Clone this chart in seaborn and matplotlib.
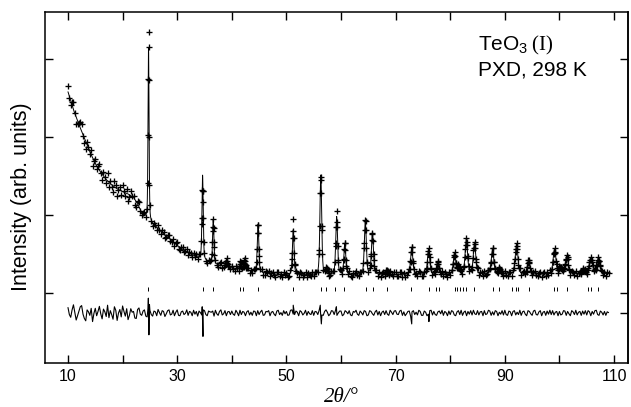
import numpy as np
import pandas as pd
import matplotlib
matplotlib.use("Agg")
import matplotlib.pyplot as plt
import seaborn as sns

# ---------------- data ----------------
# background anchor points (2theta in degrees, intensity in arb. units)
bg_2theta = [10, 11, 12, 13, 14, 15, 16, 17, 18, 19, 20, 21, 22, 22.6, 23.2, 23.8,
             24.4, 25.3, 26, 27, 28, 29, 30, 31, 32, 33, 34, 35, 36, 37, 38, 40,
             42, 44, 46, 48, 50, 55, 60, 70, 80, 90, 100, 109]
bg_level = [2580, 2350, 2160, 1990, 1810, 1660, 1545, 1455, 1385, 1335, 1300, 1270,
            1225, 1160, 1070, 985, 965, 895, 850, 790, 730, 670, 610, 560, 515, 480,
            455, 420, 380, 365, 350, 320, 295, 275, 255, 240, 232, 230, 232, 235,
            238, 238, 240, 245]

# Bragg peaks: position, calculated apex, observed apex
peak_2theta = [24.75, 34.65, 36.6, 39.05, 41.6, 42.4, 44.8, 51.25, 56.3, 57.4,
               59.2, 60.7, 64.45, 65.75, 68.5, 72.95, 76.05, 77.7, 80.8, 81.6,
               82.95, 84.45, 87.75, 89.0, 92.15, 94.35, 99.1, 100.2, 101.35,
               104.4, 105.75, 107.15]
peak_calc = [3140, 1510, 940, 430, 390, 440, 880, 810, 1510, 300,
             975, 620, 920, 760, 290, 580, 560, 390, 510, 330,
             690, 640, 560, 310, 630, 410, 560, 330, 470,
             300, 450, 450]
peak_obs = [3350, 1310, 950, 450, 400, 450, 870, 955, 1485, 310,
            1055, 640, 935, 770, 300, 590, 577, 400, 525, 340,
            705, 655, 577, 320, 641, 423, 577, 340, 487,
            310, 462, 462]

# reflection marker positions
refl_2theta = [24.7, 34.65, 36.55, 41.5, 42.1, 44.75, 51.2, 56.25, 57.3, 58.9,
               60.5, 64.5, 65.8, 68.5, 72.9, 76.1, 77.4, 78.0, 80.8, 81.3, 81.8,
               82.4, 82.95, 84.3, 87.8, 89.0, 91.3, 92.1, 92.5, 94.4, 99.0, 99.5,
               101.3, 105.2, 105.8, 107.1]

# observed - calculated residuals on a 0.25 degree grid from 10 to 109
grid_start, grid_step = 10.0, 0.25
obs_resid = [
    70, -20, -55, 40, 105, 10, -90, -35, 25, 80, 95, -15, -70, -100, 40, 15, -30, 60, -110, -5,
    60, -35, 20, 85, -10, -75, 50, 15, -45, 100, -60, 30, -20, -80, 80, 35, -95, 0, 45, -50,
    90, 20, -40, 55, -85, -30, 55, 10, 20, -65, -70, 45, 65, -15, -30, 25, 40, -40, -50, 15,
    35, -20, -40, 25, 15, -35, 45, 5, -30, 30, 20, -45, -10, 30, 40, -25, -15, 35, -35, 10,
    40, -30, -35, 15, 25, -20, -5, 40, -30, 20, 10, -35, 35, -15, 20, -40, 25, 5, -25, 15,
    30, -20, -35, 25, 15, 10, 25, -40, 35, -10, -30, 20, 40, -25, -10, 30, -35, 15, 20, -20,
    25, -15, -30, 35, 5, -35, 35, -20, 20, 10, -35, 15, 30, -25, 10, -30, 25, 20, -35, 30,
    -20, 15, 35, -30, -25, 20, 15, 30, -35, 10, 20, -15, -35, 25, 35, -20, 5, -30, 30, -10,
    20, -30, -25, 35, 40, -15, -20, 25, 10, -35, 30, 15, -25, -5, 35, -30, 20, -10, -20, 30,
    -30, 20, 15, -20, 35, 5, -25, -30, 20, 40, 10, -35, -15, 30, 25, -20, 35, -30, 0, 25,
    25, -35, -20, 30, 15, -10, 30, -25, -35, 20, 10, 35, -15, -30, 25, 5, -25, 30, 20, -35,
    -25, 30, 20, -10, -30, 15, 35, -25, 20, -35, 10, 25, -20, 30, -15, -30, 35, 10, -20, 25,
    30, -15, -20, 25, 35, -30, 15, -35, -10, 20, 25, -40, 15, 30, -20, 10, -25, 35, 20, -30,
    -30, 25, 10, -35, -15, 30, 35, -25, 20, -20, -30, 15, 25, -10, 35, -30, 20, 5, -35, 25,
    -20, 30, 20, -25, -35, 15, 30, -20, 35, -30, 10, 25, -35, 20, -15, 30, -25, 35, -10, -20,
    30, -25, 15, 20, -35, 30, -20, -10, 35, 25, -30, 15, -25, 30, 20, -35, 10, -15, 30, -25,
    35, -20, -30, 25, 15, -35, 20, 30, -25, 10, -20, 35, -30, 15, 25, -15, -35, 30, 20, -10,
    -30, 25, 35, -20, -25, 15, 30, -35, 10, 20, -30, 25, -15, 35, -20, 30, -25, 10, 20, -35,
    20, -25, -15, 30, 25, -30, 20, -10, -35, 30, 15, -20, 35, -25, 10, 20, -30, 25, -15, 30,
    -25, 30, 15, -35, 20, -15, 30, 35, -20, -30, 25, 10, -25, 20, -30, 15, 5,
]
# extra residual spikes at strong reflections
spike_2theta = [24.65, 24.72, 24.82, 24.92, 34.58, 34.72, 34.82, 51.25, 56.2, 56.4,
                59.15, 72.95, 76.1]
spike_diff = [60, 190, -280, 110, 80, -300, 40, 100, 100, -140, 80, -140, -110]

DIFF_ZERO = -256     # baseline of the difference curve
REFL_Y = 50          # height of the reflection markers

# ---------------- model curves ----------------
def background(t):
    return np.interp(t, bg_2theta, bg_level)

def width(t):
    return 0.06 + 0.0022 * (np.asarray(t) - 10)

def profile(t):
    t = np.asarray(t, dtype=float)
    y = background(t)
    for p, a in zip(peak_2theta, peak_calc):
        amp = a - background(p)
        s = width(p)
        g = np.exp(-0.5 * ((t - p) / s) ** 2)
        lo = 1.0 / (1.0 + ((t - p) / (1.18 * s)) ** 2)
        y = y + amp * (0.6 * g + 0.4 * lo)
    return y

t_fine = np.arange(10.0, 109.0001, 0.01)
calc_df = pd.DataFrame({"tt": t_fine, "I": profile(t_fine)})

t_grid = grid_start + grid_step * np.arange(len(obs_resid))
resid = np.array(obs_resid, dtype=float)

# observed points: grid + peak flanks + peak tops
flank_t = []
for p in peak_2theta:
    s = float(width(p))
    for k in (-1.9, -1.2, -0.6, 0.6, 1.2, 1.9):
        flank_t.append(p + k * s)
flank_t = np.array(flank_t)
obs_df = pd.DataFrame({
    "tt": np.concatenate([t_grid, flank_t, peak_2theta]),
    "I": np.concatenate([profile(t_grid) + resid, profile(flank_t), peak_obs]),
})

diff_df = pd.DataFrame({
    "tt": np.concatenate([t_grid, spike_2theta]),
    "D": np.concatenate([resid, spike_diff]) + DIFF_ZERO,
}).sort_values("tt")

refl_df = pd.DataFrame({"tt": refl_2theta, "y": REFL_Y})

# ---------------- figure ----------------
sns.set_style("ticks")
plt.rcParams["font.family"] = ["Liberation Sans", "DejaVu Sans"]
plt.rcParams["mathtext.fontset"] = "custom"
plt.rcParams["mathtext.sf"] = "Liberation Sans"
plt.rcParams["mathtext.rm"] = "Liberation Serif"
plt.rcParams["mathtext.it"] = "Liberation Serif:italic"
for k in ("text.color", "axes.labelcolor", "xtick.color", "ytick.color",
          "axes.edgecolor", "xtick.labelcolor", "ytick.labelcolor"):
    plt.rcParams[k] = "black"

W, H = 631, 407
fig = plt.figure(figsize=(W / 100, H / 100), dpi=100)
ax = fig.add_axes([45 / W, 1 - 363 / H, (628 - 45) / W, (363 - 12) / H])

sns.lineplot(data=calc_df, x="tt", y="I", ax=ax, color="black", lw=0.7,
             estimator=None, sort=False)
sns.scatterplot(data=obs_df, x="tt", y="I", ax=ax, marker="+", color="black",
                s=20, linewidth=0.95)
sns.lineplot(data=diff_df, x="tt", y="D", ax=ax, color="black", lw=0.8,
             estimator=None, sort=False)
sns.scatterplot(data=refl_df, x="tt", y="y", ax=ax, marker="|", color="black",
                s=12, linewidth=0.7)

ax.set_xlim(5.79, 112.56)
ax.set_ylim(-897, 3603)
ax.set_xlabel("")
ax.set_ylabel("")

xt = list(range(10, 111, 10))
ax.set_xticks(xt, [str(v) if (v - 10) % 20 == 0 else "" for v in xt])
ax.set_yticks([0, 1000, 2000, 3000], [])
ax.tick_params(axis="x", direction="in", length=6, width=1.0, top=True,
               labelsize=11.5, pad=4)
ax.tick_params(axis="y", direction="in", length=6, width=1.0, right=False)
for sp in ax.spines.values():
    sp.set_linewidth(1.1)
    sp.set_visible(True)

sec = ax.secondary_yaxis("right")
sec.set_yticks([DIFF_ZERO, 0, 1000, 2000, 3000], [])
sec.tick_params(direction="in", length=6, width=1.0)
sec.spines["right"].set_linewidth(1.1)

def px(x, y):
    return x / W, 1 - y / H

fig.text(*px(22, 197), "Intensity (arb. units)", rotation=90, ha="center",
         va="center", fontsize=15.5)
fig.text(*px(341, 397), "2θ/°", ha="center", va="center", fontsize=15,
         family="Liberation Serif", style="italic")
fig.text(*px(478, 50), r"$\mathsf{TeO}_{\mathsf{3}}\;\mathrm{(I)}$", ha="left",
         va="baseline", fontsize=15)
fig.text(*px(478, 75), "PXD, 298 K", ha="left", va="baseline", fontsize=15)

fig.savefig("out.png", dpi=100)
